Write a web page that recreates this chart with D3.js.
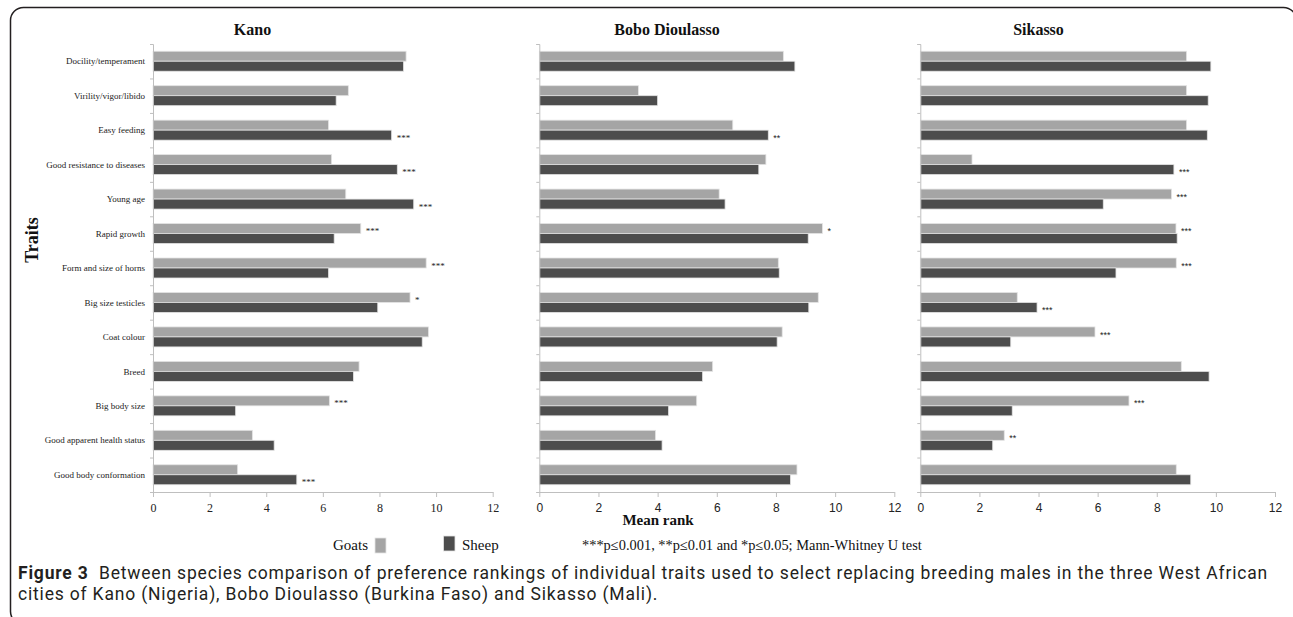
<!DOCTYPE html>
<html>
<head>
<meta charset="utf-8">
<script src="https://cdn.jsdelivr.net/npm/d3@7"></script>
<style>
  body { margin: 0; background: #fff; }
  svg { display: block; }
</style>
</head>
<body>
<svg id="fig" width="1293" height="617"></svg>
<script>
// ---- data -------------------------------------------------------------
const traits = [
  "Docility/temperament", "Virility/vigor/libido", "Easy feeding",
  "Good resistance to diseases", "Young age", "Rapid growth",
  "Form and size of horns", "Big size testicles", "Coat colour", "Breed",
  "Big body size", "Good apparent health status", "Good body conformation"
];
const cities = ["Kano", "Bobo Dioulasso", "Sikasso"];
const species = ["Goats", "Sheep"];
const xTicks = [0, 2, 4, 6, 8, 10, 12];

// mean ranks, one value per trait
const kanoGoats  = [8.94, 6.90, 6.20, 6.31, 6.81, 7.34, 9.65, 9.08, 9.73, 7.28, 6.23, 3.51, 2.99];
const kanoSheep  = [8.85, 6.47, 8.43, 8.63, 9.21, 6.40, 6.20, 7.94, 9.51, 7.08, 2.92, 4.28, 5.08];
const boboGoats  = [8.25, 3.35, 6.54, 7.66, 6.08, 9.57, 8.08, 9.43, 8.21, 5.86, 5.32, 3.93, 8.71];
const boboSheep  = [8.64, 4.00, 7.74, 7.42, 6.28, 9.09, 8.11, 9.11, 8.04, 5.52, 4.37, 4.15, 8.49];
const sikaGoats  = [9.01, 9.01, 9.01, 1.75, 8.50, 8.65, 8.66, 3.28, 5.91, 8.83, 7.06, 2.84, 8.66];
const sikaSheep  = [9.83, 9.74, 9.71, 8.58, 6.19, 8.69, 6.62, 3.95, 3.06, 9.77, 3.11, 2.45, 9.15];

// significance markers, written after the flagged bar
const kanoGoatsSig = ["", "", "", "", "", "***", "***", "*", "", "", "***", "", ""];
const kanoSheepSig = ["", "", "***", "***", "***", "", "", "", "", "", "", "", "***"];
const boboGoatsSig = ["", "", "", "", "", "*", "", "", "", "", "", "", ""];
const boboSheepSig = ["", "", "**", "", "", "", "", "", "", "", "", "", ""];
const sikaGoatsSig = ["", "", "", "", "***", "***", "***", "", "***", "", "***", "**", ""];
const sikaSheepSig = ["", "", "", "***", "", "", "", "***", "", "", "", "", ""];

const xAxisTitle = "Mean rank";
const yAxisTitle = "Traits";
const sigNote = "***p\u22640.001, **p\u22640.01 and *p\u22640.05; Mann-Whitney U test";
const captionLabel = "Figure 3";
const captionLine1 = "Between species comparison of preference rankings of individual traits used to select replacing breeding males in the three West African";
const captionLine2 = "cities of Kano (Nigeria), Bobo Dioulasso (Burkina Faso) and Sikasso (Mali).";

// ---- layout & style ---------------------------------------------------
const SERIF = "'Liberation Serif', 'Times New Roman', serif";
const SANS = "'Liberation Sans', Arial, sans-serif";
const CAPTION_FONT = "Roboto, 'Open Sans', sans-serif";
const colors = { Goats: "#a5a5a5", Sheep: "#4d4d4d" };
const axisColor = "#bfbfbf";
const plotTop = 44, plotBottom = 492;

const panels = [
  { goats: kanoGoats, sheep: kanoSheep, goatsSig: kanoGoatsSig, sheepSig: kanoSheepSig,
    x0: 153, x1: 492.7, titleX: 252.5, tickFont: SERIF, tickSize: 12, starFont: SERIF, starSize: 9, labels: true },
  { goats: boboGoats, sheep: boboSheep, goatsSig: boboGoatsSig, sheepSig: boboSheepSig,
    x0: 539.3, x1: 894.3, titleX: 667, tickFont: SANS, tickSize: 12, starFont: SANS, starSize: 9, labels: false },
  { goats: sikaGoats, sheep: sikaSheep, goatsSig: sikaGoatsSig, sheepSig: sikaSheepSig,
    x0: 920.3, x1: 1275, titleX: 1038.5, tickFont: SANS, tickSize: 12, starFont: SANS, starSize: 9, labels: false }
];

const svg = d3.select("#fig");

// rounded frame around the figure (right and bottom edges run past the page)
svg.append("rect")
  .attr("x", 10.5).attr("y", 7.5)
  .attr("width", 1286).attr("height", 617)
  .attr("rx", 13).attr("ry", 13)
  .attr("fill", "none").attr("stroke", "#231f20").attr("stroke-width", 1.5);

const y = d3.scaleBand().domain(traits).range([plotTop, plotBottom]).paddingInner(0).paddingOuter(0);
const ySub = d3.scaleBand().domain(species).range([0, y.bandwidth()]).paddingInner(0).paddingOuter(0.723);
const yEdges = d3.scaleLinear().domain([0, traits.length]).range([plotTop, plotBottom]);

panels.forEach((p, pi) => {
  const g = svg.append("g");
  const x = d3.scaleLinear().domain([0, 12]).range([p.x0, p.x1]);

  // title
  g.append("text")
    .attr("x", p.titleX).attr("y", 35)
    .attr("text-anchor", "middle")
    .attr("font-family", SERIF).attr("font-weight", "bold").attr("font-size", 16)
    .attr("fill", "#111")
    .text(cities[pi]);

  // bars
  const rows = traits.map((t, i) => ({ trait: t, i }));
  species.forEach(sp => {
    const vals = sp === "Goats" ? p.goats : p.sheep;
    const sig = sp === "Goats" ? p.goatsSig : p.sheepSig;
    g.append("g").selectAll("rect")
      .data(rows).join("rect")
      .attr("x", x(0))
      .attr("y", d => y(d.trait) + ySub(sp))
      .attr("width", d => x(vals[d.i]) - x(0))
      .attr("height", ySub.bandwidth())
      .attr("fill", colors[sp])
      .attr("stroke", "#e4e4e4").attr("stroke-width", 0.8);

    g.append("g").selectAll("text")
      .data(rows.filter(d => sig[d.i])).join("text")
      .attr("x", d => x(vals[d.i]) + 5)
      .attr("y", d => y(d.trait) + ySub(sp) + ySub.bandwidth() / 2 + p.starSize * 0.62)
      .attr("font-family", p.starFont).attr("font-size", p.starSize)
      .attr("fill", "#222")
      .text(d => sig[d.i]);
  });

  // category axis: boundary ticks only
  const ya = g.append("g")
    .attr("transform", `translate(${p.x0},0)`)
    .call(d3.axisLeft(yEdges).tickValues(d3.range(traits.length + 1)).tickSize(3).tickFormat(""));
  ya.select(".domain").attr("stroke", axisColor);
  ya.selectAll(".tick line").attr("stroke", axisColor);

  if (p.labels) {
    g.append("g").selectAll("text")
      .data(traits).join("text")
      .attr("x", 145)
      .attr("y", d => y(d) + y.bandwidth() / 2)
      .attr("dy", "0.35em")
      .attr("text-anchor", "end")
      .attr("font-family", SERIF).attr("font-size", 9)
      .attr("fill", "#222")
      .text(d => d);
  }

  // value axis
  const xa = g.append("g")
    .attr("transform", `translate(0,${plotBottom})`)
    .call(d3.axisBottom(x).tickValues(xTicks).tickSize(5).tickSizeOuter(0).tickPadding(6));
  xa.select(".domain").attr("stroke", axisColor);
  xa.selectAll(".tick line").attr("stroke", axisColor);
  xa.selectAll(".tick text")
    .attr("font-family", p.tickFont).attr("font-size", p.tickSize).attr("fill", "#222");
});

// axis titles
svg.append("text")
  .attr("transform", "translate(38,240) rotate(-90)")
  .attr("text-anchor", "middle")
  .attr("font-family", SERIF).attr("font-weight", "bold").attr("font-size", 18)
  .attr("fill", "#111")
  .text(yAxisTitle);

svg.append("text")
  .attr("x", 658).attr("y", 525)
  .attr("text-anchor", "middle")
  .attr("font-family", SERIF).attr("font-weight", "bold").attr("font-size", 15)
  .attr("fill", "#111")
  .text(xAxisTitle);

// legend
const legend = svg.append("g");
legend.append("text").attr("x", 368).attr("y", 550).attr("text-anchor", "end")
  .attr("font-family", SERIF).attr("font-size", 15).attr("fill", "#111").text(species[0]);
legend.append("rect").attr("x", 375).attr("y", 538).attr("width", 11).attr("height", 15)
  .attr("fill", colors.Goats).attr("stroke", "#e4e4e4").attr("stroke-width", 0.8);
legend.append("rect").attr("x", 443.5).attr("y", 536).attr("width", 11.5).attr("height", 15)
  .attr("fill", colors.Sheep).attr("stroke", "#e4e4e4").attr("stroke-width", 0.8);
legend.append("text").attr("x", 462).attr("y", 550)
  .attr("font-family", SERIF).attr("font-size", 15).attr("fill", "#111").text(species[1]);

const note = svg.append("text").attr("x", 582).attr("y", 550)
  .attr("font-family", SERIF).attr("font-size", 14).attr("fill", "#111").text(sigNote);
{
  const w = note.node().getComputedTextLength();
  note.attr("font-size", 14 * 340 / w);
}

// caption; letter spacing widens the first line to the figure width
const capSize = 17.5;
const cap = svg.append("g").attr("font-family", CAPTION_FONT).attr("fill", "#231f20")
  .attr("font-size", capSize);
const l1 = cap.append("text").attr("x", 18).attr("y", 579);
l1.append("tspan").attr("font-weight", "bold").text(captionLabel);
l1.append("tspan").text("\u00a0\u00a0" + captionLine1);
const l2 = cap.append("text").attr("x", 18).attr("y", 600).text(captionLine2);
{
  const w = l1.node().getComputedTextLength();
  const n = captionLabel.length + captionLine1.length + 2;
  const ls = Math.max(0, (1250 - w) / n);
  cap.attr("letter-spacing", ls);
}
</script>
</body>
</html>
